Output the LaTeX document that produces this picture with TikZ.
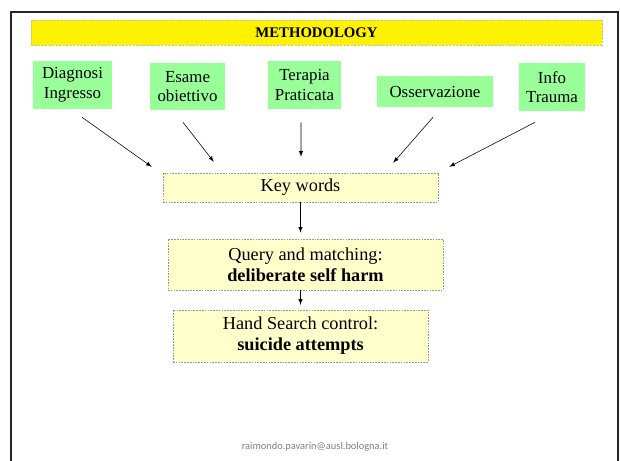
\documentclass[tikz,border=0pt]{standalone}
\usepackage{fontspec}
\setmainfont{Liberation Serif}
\newfontfamily\footfont{Carlito}
\usetikzlibrary{calc}
\definecolor{boxgreen}{RGB}{153,255,153}
\definecolor{paleyellow}{RGB}{255,255,204}
\definecolor{bargold}{RGB}{205,200,120}
\tikzset{
  greenbox/.style={fill=boxgreen, align=center, inner sep=0pt, font=\fontsize{12}{14}\selectfont},
  wordbox/.style={fill=paleyellow, draw=gray!80, dash pattern=on 1.2pt off 0.8pt, line width=0.3pt, align=center, inner sep=0pt, font=\fontsize{13}{15}\selectfont},
  titlebar/.style={fill=yellow, draw=bargold, dash pattern=on 1.5pt off 1pt, line width=0.3pt, inner sep=0pt, font=\fontsize{10.5}{12}\selectfont\bfseries},
  arr/.style={>=latex, ->, line width=0.4pt}
}
\begin{document}
\begin{tikzpicture}[x=0.025cm, y=-0.025cm]
\useasboundingbox (0,0) rectangle (620,461);

\draw [line width=1.5pt, black!85] (11,470) -- (11,12) -- (618,12) -- (618,470);

\node (title) at (316.5,32.5) [titlebar, minimum width=14.275cm, minimum height=0.625cm] {METHODOLOGY};

\node (diag) at (72.5,85) [greenbox, minimum width=1.975cm, minimum height=1.2cm] {Diagnosi\\Ingresso};
\node (esame) at (187.5,86.5) [greenbox, minimum width=1.875cm, minimum height=1.175cm] {Esame\\obiettivo};
\node (terapia) at (304.5,85) [greenbox, minimum width=1.825cm, minimum height=1.2cm] {Terapia\\Praticata};
\node (osserv) at (435,91.5) [greenbox, minimum width=2.9cm, minimum height=0.775cm] {Osservazione};
\node (info) at (552,87) [greenbox, minimum width=1.65cm, minimum height=1.2cm] {Info\\Trauma};

\node (kw) at (300.5,187.5) [wordbox, minimum width=6.875cm, minimum height=0.725cm] {Key words};
\node (query) at (305.5,264.5) [wordbox, minimum width=6.875cm, minimum height=1.275cm] {Query and matching:\\\textbf{deliberate self harm}};
\node (hand) at (300.5,336) [wordbox, minimum width=6.375cm, minimum height=1.3cm] {Hand Search control:\\\textbf{suicide attempts}};

\draw [arr] ($(diag.south)+(9.5,8)$) -- ($(kw.north west)+(-11,-6)$);
\draw [arr] ($(esame.south)+(-4.5,12)$) -- ($(kw.north west)+(51,-11)$);
\draw [arr] ($(terapia.south)+(-3.5,13)$) -- ($(kw.north)+(0.5,-16)$);
\draw [arr] ($(osserv.south)+(-2,10)$) -- ($(kw.north east)+(-45,-10)$);
\draw [arr] ($(info.south)+(-17,11)$) -- ($(kw.north east)+(11,-6)$);

\draw [arr, shorten >=4.3pt] (kw.south) -- (kw.south |- query.north);
\draw [arr, shorten >=3.5pt] (hand.north |- query.south) -- (hand.north);

\node (mail) at (315,447) [font=\footfont\fontsize{7.4}{8}\selectfont, text=gray] {raimondo.pavarin@ausl.bologna.it};
\end{tikzpicture}
\end{document}
